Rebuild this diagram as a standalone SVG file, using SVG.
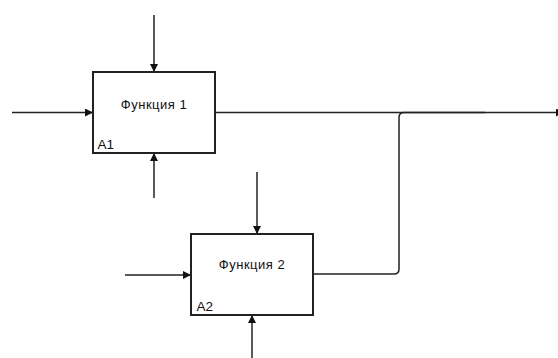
<svg xmlns="http://www.w3.org/2000/svg" width="558" height="358" viewBox="0 0 558 358">
  <style>
    .box { fill: #ffffff; stroke: #222; stroke-width: 2; }
    .conn { fill: none; stroke: #222; stroke-width: 1.5; }
    .title { font-family: "Liberation Sans", Arial, sans-serif; font-size: 13px; letter-spacing: 0.5px; fill: #111; text-anchor: middle; }
    .code { font-family: "Liberation Sans", Arial, sans-serif; font-size: 13.5px; fill: #111; }
  </style>
  <defs>
    <marker id="arrow" viewBox="0 0 10 10" refX="10" refY="5" markerWidth="8" markerHeight="8" markerUnits="userSpaceOnUse" orient="auto">
      <path d="M0,0 L10,5 L0,10 Z" fill="#111"/>
    </marker>
  </defs>

  <g id="connectors">
    <!-- A1 control, input, mechanism -->
    <line class="conn" x1="154" y1="15" x2="154" y2="72" marker-end="url(#arrow)"/>
    <line class="conn" x1="12" y1="112.5" x2="93" y2="112.5" marker-end="url(#arrow)"/>
    <line class="conn" x1="154" y1="198" x2="154" y2="153" marker-end="url(#arrow)"/>
    <!-- A1 output -->
    <line class="conn" x1="215" y1="112.5" x2="564" y2="112.5" marker-end="url(#arrow)"/>
    <!-- A2 output joining A1 output -->
    <path class="conn" d="M313,274 H394 Q399,274 399,269 V117.5 Q399,112.5 404,112.5 H485"/>
    <!-- A2 control, input, mechanism -->
    <line class="conn" x1="257" y1="172" x2="257" y2="234" marker-end="url(#arrow)"/>
    <line class="conn" x1="125" y1="275" x2="191" y2="275" marker-end="url(#arrow)"/>
    <line class="conn" x1="252" y1="358" x2="252" y2="315" marker-end="url(#arrow)"/>
  </g>

  <g id="A1">
    <rect class="box" x="93" y="72" width="122" height="81"/>
    <text class="title" x="154" y="108.5">Функция 1</text>
    <text class="code" x="97.5" y="148.5">A1</text>
  </g>

  <g id="A2">
    <rect class="box" x="191" y="234" width="122" height="81"/>
    <text class="title" x="252" y="268.5">Функция 2</text>
    <text class="code" x="196.5" y="311">A2</text>
  </g>
</svg>
